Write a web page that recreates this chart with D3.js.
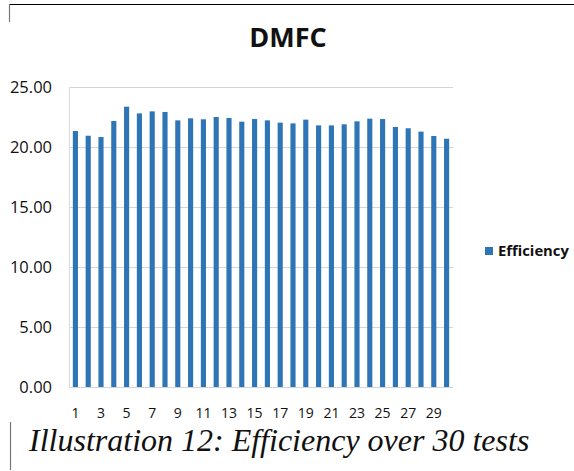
<!DOCTYPE html>
<html><head><meta charset="utf-8">
<script src="https://cdn.jsdelivr.net/npm/d3@7"></script>
<style>body{margin:0;background:#fff;overflow:hidden}</style>
</head><body>
<svg id="c" width="574" height="471"></svg>
<script>
const tests = d3.range(1, 31);
const efficiency = [21.33,20.94,20.83,22.17,23.36,22.8,22.97,22.92,22.22,22.39,
  22.31,22.5,22.42,22.11,22.33,22.22,22.03,21.97,22.28,21.8,
  21.8,21.89,22.14,22.36,22.33,21.67,21.56,21.28,20.92,20.69];
const yTicks = [0,5,10,15,20,25];
const seriesName = "Efficiency";
const title = "DMFC";
const caption = "Illustration 12: Efficiency over 30 tests";

const svg = d3.select("#c");
const L = 69, R = 453, T = 87, B = 387;
const x = d3.scaleBand().domain(tests).range([L, R]).paddingInner(0.6).paddingOuter(0.3);
const y = d3.scaleLinear().domain([0,25]).range([B, T]);

// page frame lines
svg.append("line").attr("x1",9).attr("x2",574).attr("y1",4.5).attr("y2",4.5).attr("stroke","#000").attr("stroke-width",1.2);
svg.append("line").attr("x1",9.5).attr("x2",9.5).attr("y1",4).attr("y2",22).attr("stroke","#777").attr("stroke-width",1.2);
svg.append("line").attr("x1",10.5).attr("x2",10.5).attr("y1",422).attr("y2",470).attr("stroke","#777").attr("stroke-width",1.2);

// gridlines
svg.append("g").selectAll("line").data(yTicks).join("line")
  .attr("x1",L).attr("x2",R).attr("y1",d=>y(d)+0.5).attr("y2",d=>y(d)+0.5)
  .attr("stroke","#d4d4d4").attr("stroke-width",1);
svg.append("line").attr("x1",L+0.5).attr("x2",L+0.5).attr("y1",T).attr("y2",B).attr("stroke","#dcdcdc");

// bars
svg.append("g").selectAll("rect").data(efficiency).join("rect")
  .attr("x",(d,i)=>x(tests[i])).attr("width",x.bandwidth())
  .attr("y",d=>y(d)).attr("height",d=>B-y(d)).attr("fill","#2e75b6");

// y axis
const ya = svg.append("g").attr("transform",`translate(${L-14},0)`)
  .call(d3.axisLeft(y).tickValues(yTicks).tickFormat(d3.format(".2f")).tickSize(0));
ya.select(".domain").remove();
ya.selectAll("text").attr("font-family","'Open Sans', sans-serif").attr("font-size",16.5).attr("fill","#111");

// x axis
const xa = svg.append("g").attr("transform",`translate(0,${B+18})`)
  .call(d3.axisBottom(x).tickValues(tests.filter(t=>t%2===1)).tickSize(0));
xa.select(".domain").remove();
xa.selectAll("text").attr("font-family","'Open Sans', sans-serif").attr("font-size",14).attr("fill","#111");

// title
svg.append("text").attr("x",288).attr("y",47).attr("text-anchor","middle")
  .attr("font-family","'Open Sans', sans-serif").attr("font-weight","bold").attr("font-size",27).attr("fill","#111").text(title);

// legend
svg.append("rect").attr("x",485).attr("y",247).attr("width",8).attr("height",8).attr("fill","#2e75b6");
svg.append("text").attr("x",498).attr("y",256).attr("font-family","'Open Sans', sans-serif").attr("font-weight","bold").attr("font-size",14.8).attr("fill","#111").text(seriesName);

// caption
svg.append("text").attr("x",29).attr("y",451).attr("font-family","'Liberation Serif', serif").attr("font-style","italic").attr("font-size",32).attr("fill","#111").text(caption);
</script>
</body></html>
